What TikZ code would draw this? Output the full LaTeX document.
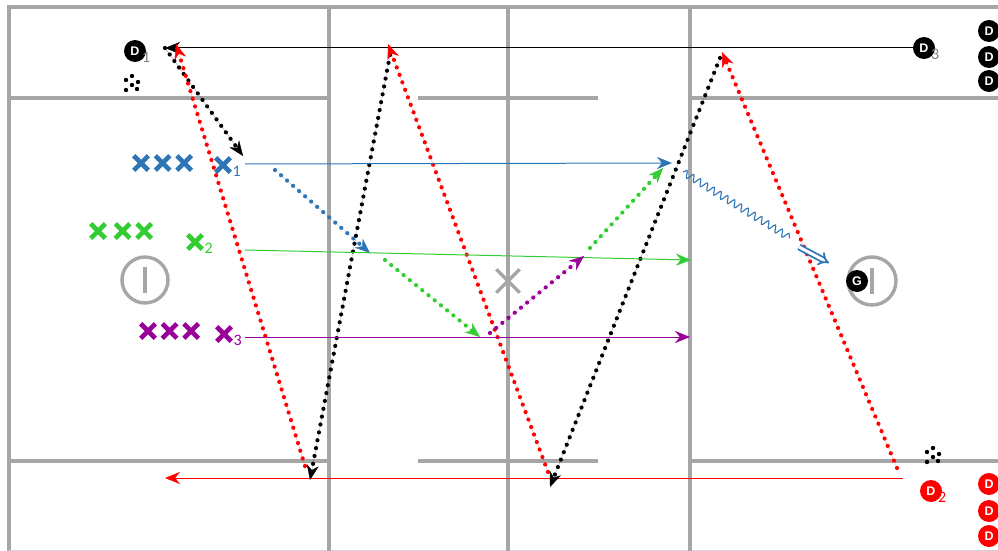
\documentclass[tikz,border=0pt]{standalone}
\usepackage{fontspec}
\setmainfont{Carlito}
\newfontfamily\dfont{Liberation Sans}
\usetikzlibrary{arrows.meta, positioning, shapes.misc, decorations.pathmorphing}

\definecolor{fieldgray}{RGB}{166,166,166}
\definecolor{xblue}{RGB}{46,117,182}
\definecolor{xgreen}{RGB}{51,204,51}
\definecolor{xpurple}{RGB}{153,0,153}

\begin{document}
\begin{tikzpicture}[
    x=1pt, y=-1pt,
    node distance=7pt,
    field/.style={draw=fieldgray, line width=3.4pt},
    player/.style={cross out, draw=#1, line width=4.6pt, minimum size=10pt, inner sep=0pt},
    defender/.style={circle, fill=#1, text=white, minimum size=22pt, inner sep=0pt, font=\dfont\bfseries\fontsize{12.5}{12.5}\selectfont},
    sub/.style={text=#1, font=\fontsize{16}{16}\selectfont, inner sep=0pt, anchor=west},
    pass/.style={-{Stealth[length=15pt, width=12pt, line width=0.4pt]}, draw=#1, line width=1pt},
    run/.style={-{Stealth[length=15pt, width=12pt, line width=0.4pt]}, draw=#1, fill=#1, line width=4.2pt, line cap=round, dash pattern=on 0pt off 8pt},
    cone/.style={circle, fill=black, inner sep=0pt, minimum size=4.4pt}
]
\useasboundingbox (0,0) rectangle (998,551);

% Field
\draw[field] (9,551) -- (9,7) -- (998,7);
\draw[draw=fieldgray!50, line width=1pt] (9,550) -- (998,550);
\foreach \x in {329,508,690}
  \draw[field] (\x,7) -- (\x,551);
\foreach \y in {98,461} {
  \draw[field] (9,\y) -- (329,\y);
  \draw[field] (418,\y) -- (598,\y);
  \draw[field] (690,\y) -- (998,\y);
}
\draw[field] (145,280) circle (23);
\draw[field] (145,267) -- (145,293);
\draw[field] (872,281) circle (24);
\draw[field] (872,268) -- (872,294);
\node[cross out, draw=fieldgray, line width=3.4pt, minimum size=20pt, inner sep=0pt] (mid) at (508,281) {};

% Nodes
\node[defender=black] (d1) at (135,51) {D};
\node[sub=gray] at ([xshift=-1pt, yshift=2pt]d1.south east) {1};
\node[defender=black] (d3) at (924,48) {D};
\node[sub=gray] at ([xshift=-1pt, yshift=2pt]d3.south east) {3};
\node[defender=red] (d2) at (931,491) {D};
\node[sub=red] at ([xshift=-1pt, yshift=2pt]d2.south east) {2};
\node[defender=black] (g) at (857,281) {G};

\foreach \y [count=\i] in {31,57,81}
  \node[defender=black] (bench\i) at (989,\y) {D};
\foreach \y [count=\i] in {484,511,536}
  \node[defender=red] (redbench\i) at (989,\y) {D};

\node[player=xblue] (blue1) at (141,163) {};
\node[player=xblue, right=of blue1] (blue2) {};
\node[player=xblue, right=of blue2] (blue3) {};
\node[player=xblue] (x1) at (223,165) {};
\node[sub=xblue] at ([xshift=2pt, yshift=1pt]x1.south east) {1};

\node[player=xgreen] (green1) at (98,231) {};
\node[player=xgreen, right=10pt of green1] (green2) {};
\node[player=xgreen, right=of green2] (green3) {};
\node[player=xgreen] (x2) at (195,242) {};
\node[sub=xgreen] at ([xshift=2pt, yshift=1pt]x2.south east) {2};

\node[player=xpurple] (purple1) at (148,331) {};
\node[player=xpurple, right=of purple1] (purple2) {};
\node[player=xpurple, right=of purple2] (purple3) {};
\node[player=xpurple] (x3) at (224,334) {};
\node[sub=xpurple] at ([xshift=2pt, yshift=1pt]x3.south east) {3};

% cones
\foreach \cx/\cy in {132/83, 933/455}
  \foreach \dx/\dy in {0/-7, -6/-3, 6/-1, 0/2, -6/7, 5/6}
    \node[cone] at (\cx+\dx,\cy+\dy) {};

% Points
\coordinate (topL) at (165,48);
\coordinate (runD1) at (243,156);
\coordinate (redUp1) at (305,466);
\coordinate (redTop1) at (176,44);
\coordinate (blackTop1) at (390,55);
\coordinate (blackLow1) at (310,480);
\coordinate (redUp2) at (548,472);
\coordinate (redTop2) at (388,44);
\coordinate (blackTop2) at (720,58);
\coordinate (blackLow2) at (550,487);
\coordinate (redUp3) at (897,468);
\coordinate (redTop3) at (722,52);
\coordinate (redStart) at (903,478);
\coordinate (redEnd) at (165,478);

\coordinate (blueA) at (245,164);
\coordinate (blueB) at (672,163);
\coordinate (blueC) at (275,170);
\coordinate (blueD) at (370,253);
\coordinate (greenA) at (245,250);
\coordinate (greenB) at (691,260);
\coordinate (greenC) at (385,260);
\coordinate (greenD) at (480,337);
\coordinate (greenE) at (590,248);
\coordinate (greenF) at (663,168);
\coordinate (purpleA) at (245,337);
\coordinate (purpleB) at (690,337);
\coordinate (purpleC) at (490,333);
\coordinate (purpleD) at (584,256);
\coordinate (waveA) at (683,172);
\coordinate (waveB) at (790,238);
\coordinate (shotA) at (799,247);
\coordinate (shotB) at (829,263);

% Paths
\draw[pass=black] (d3) -- (topL);
\draw[run=black] (topL) -- (runD1);
\draw[pass=red] (redStart) -- (redEnd);
\draw[run=red] (redUp1) -- (redTop1);
\draw[run=black] (blackTop1) -- (blackLow1);
\draw[run=red] (redUp2) -- (redTop2);
\draw[run=black] (blackTop2) -- (blackLow2);
\draw[run=red] (redUp3) -- (redTop3);

\draw[pass=xblue] (blueA) -- (blueB);
\draw[run=xblue] (blueC) -- (blueD);
\draw[pass=xgreen] (greenA) -- (greenB);
\draw[run=xgreen] (greenC) -- (greenD);
\draw[run=xgreen] (greenE) -- (greenF);
\draw[pass=xpurple] (purpleA) -- (purpleB);
\draw[run=xpurple] (purpleC) -- (purpleD);

\draw[xblue, line width=1.1pt, decorate, decoration={snake, amplitude=3.5pt, segment length=8pt}] (waveA) -- (waveB);
\draw[xblue, line width=1.8pt, double, double distance=3pt, -{Implies}] (shotA) -- (shotB);

\end{tikzpicture}
\end{document}
